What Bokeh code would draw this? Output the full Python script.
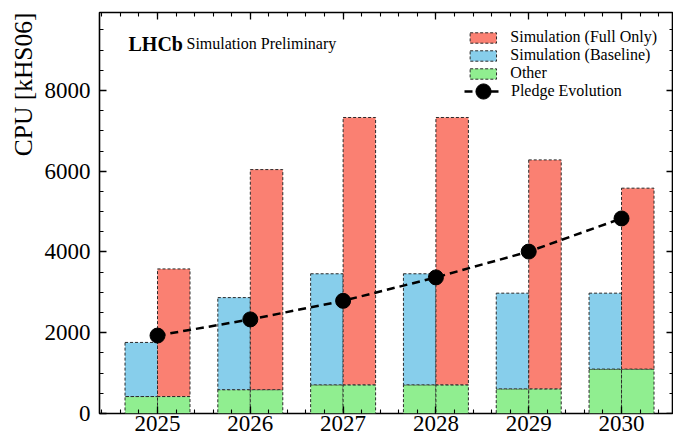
import numpy as np
from bokeh.plotting import figure
from bokeh.models import (Range1d, FixedTicker, LinearAxis, Label, Legend,
                          LegendItem, ColumnDataSource, Title)
from bokeh.embed import file_html
from bokeh.resources import INLINE

# ---- data ----
years = ["2025", "2026", "2027", "2028", "2029", "2030"]
other = [420, 590, 710, 710, 610, 1100]
sim_baseline = [1340, 2280, 2750, 2750, 2370, 1880]
sim_full_only = [3160, 5450, 6620, 6620, 5670, 4480]
pledge = [1930, 2330, 2790, 3370, 4010, 4830]
y_major_ticks = [0, 2000, 4000, 6000, 8000]

FONT = "Liberation Serif"
RED = "#FA8072"
BLUE = "#87CEEB"
GREEN = "#90EE90"
EDGE = "#2a2a2a"
BW = 0.35
X0, X1 = -0.625, 5.56
Y0, Y1 = 0, 9930

xpos = np.arange(len(years), dtype=float)
oth = np.array(other, dtype=float)
src = ColumnDataSource(dict(
    xl=xpos - BW / 2, xr=xpos + BW / 2, x=xpos,
    zero=np.zeros(len(years)), other=oth,
    base_top=oth + np.array(sim_baseline, dtype=float),
    full_top=oth + np.array(sim_full_only, dtype=float),
    pledge=np.array(pledge, dtype=float),
))

p = figure(width=673, height=439, output_backend="svg", toolbar_location=None,
           x_range=Range1d(X0, X1), y_range=Range1d(Y0, Y1),
           min_border=0, min_border_left=99, min_border_right=0,
           min_border_top=12, min_border_bottom=26,
           background_fill_color="white", border_fill_color="white")
p.xgrid.visible = False
p.ygrid.visible = False
p.outline_line_color = "black"
p.outline_line_width = 1.6

bar_kw = dict(width=BW, line_color=EDGE, line_dash="3 2", line_width=1)
g1 = p.vbar(x="xl", bottom="zero", top="other", fill_color=GREEN, source=src, **bar_kw)
b1 = p.vbar(x="xl", bottom="other", top="base_top", fill_color=BLUE, source=src, **bar_kw)
g2 = p.vbar(x="xr", bottom="zero", top="other", fill_color=GREEN, source=src, **bar_kw)
r1 = p.vbar(x="xr", bottom="other", top="full_top", fill_color=RED, source=src, **bar_kw)

ln = p.line(x="x", y="pledge", source=src, line_color="black", line_width=2.5,
            line_dash="8 5")
sc = p.scatter(x="x", y="pledge", source=src, size=15, fill_color="black",
               line_color="black")

# ---- axes ----
xax = p.below[0]
yax = p.left[0]
x_ticker = FixedTicker(ticks=list(xpos),
                       minor_ticks=[round(v, 1) for v in np.arange(-0.6, 5.6, 0.2)])
y_ticker = FixedTicker(ticks=y_major_ticks, minor_ticks=list(range(0, 10000, 500)))
xax.ticker = x_ticker
yax.ticker = y_ticker
xax.major_label_overrides = {i: years[i] for i in range(len(years))}

top_ax = LinearAxis(ticker=x_ticker, fixed_location=Y1)
right_ax = LinearAxis(ticker=y_ticker, fixed_location=X1)
p.add_layout(top_ax, "above")
p.add_layout(right_ax, "right")

for ax in [xax, yax, top_ax, right_ax]:
    ax.axis_line_color = None
    ax.major_tick_in = 7
    ax.major_tick_out = 0
    ax.minor_tick_in = 4
    ax.minor_tick_out = 0
    ax.major_tick_line_width = 1.3
    ax.minor_tick_line_width = 1.1
    ax.major_tick_line_color = "black"
    ax.minor_tick_line_color = "black"
    ax.major_label_text_font = FONT
    ax.major_label_text_font_size = "23px"
    ax.major_label_text_color = "black"
for ax in [top_ax, right_ax]:
    ax.major_label_text_color = None
    ax.major_label_standoff = 0
xax.major_label_standoff = 2
yax.major_label_standoff = 9

# ---- texts ----
p.add_layout(Title(text="CPU [kHS06]", align="right", text_font=FONT,
                   text_font_size="25.5px", text_font_style="normal",
                   text_color="black", standoff=7), "left")
p.add_layout(Label(x=29, y=370, x_units="screen", y_units="screen",
                   text="LHCb", text_font=FONT, text_font_style="bold",
                   text_font_size="20px", text_baseline="alphabetic",
                   text_color="black"))
p.add_layout(Label(x=87, y=370, x_units="screen", y_units="screen",
                   text="Simulation Preliminary", text_font=FONT,
                   text_font_size="16px", text_baseline="alphabetic",
                   text_color="black"))

# ---- legend ----
leg_common = dict(padding=0, spacing=0, label_text_font=FONT,
                  label_text_font_size="16px", label_text_color="black",
                  border_line_color=None, background_fill_alpha=0)
legend = Legend(items=[
    LegendItem(label="Simulation (Full Only)", renderers=[r1]),
    LegendItem(label="Simulation (Baseline)", renderers=[b1]),
    LegendItem(label="Other", renderers=[g1]),
], location="top_right", margin=16, glyph_width=33, glyph_height=13,
    label_height=18, label_standoff=11, **leg_common)
p.add_layout(legend)

legend2 = Legend(items=[
    LegendItem(label="Pledge Evolution", renderers=[ln, sc]),
], location=(365, 303), margin=0, glyph_width=38, glyph_height=38,
    label_height=18, label_standoff=9, **leg_common)
p.add_layout(legend2)

open("out.html", "w").write(file_html(p, INLINE))
